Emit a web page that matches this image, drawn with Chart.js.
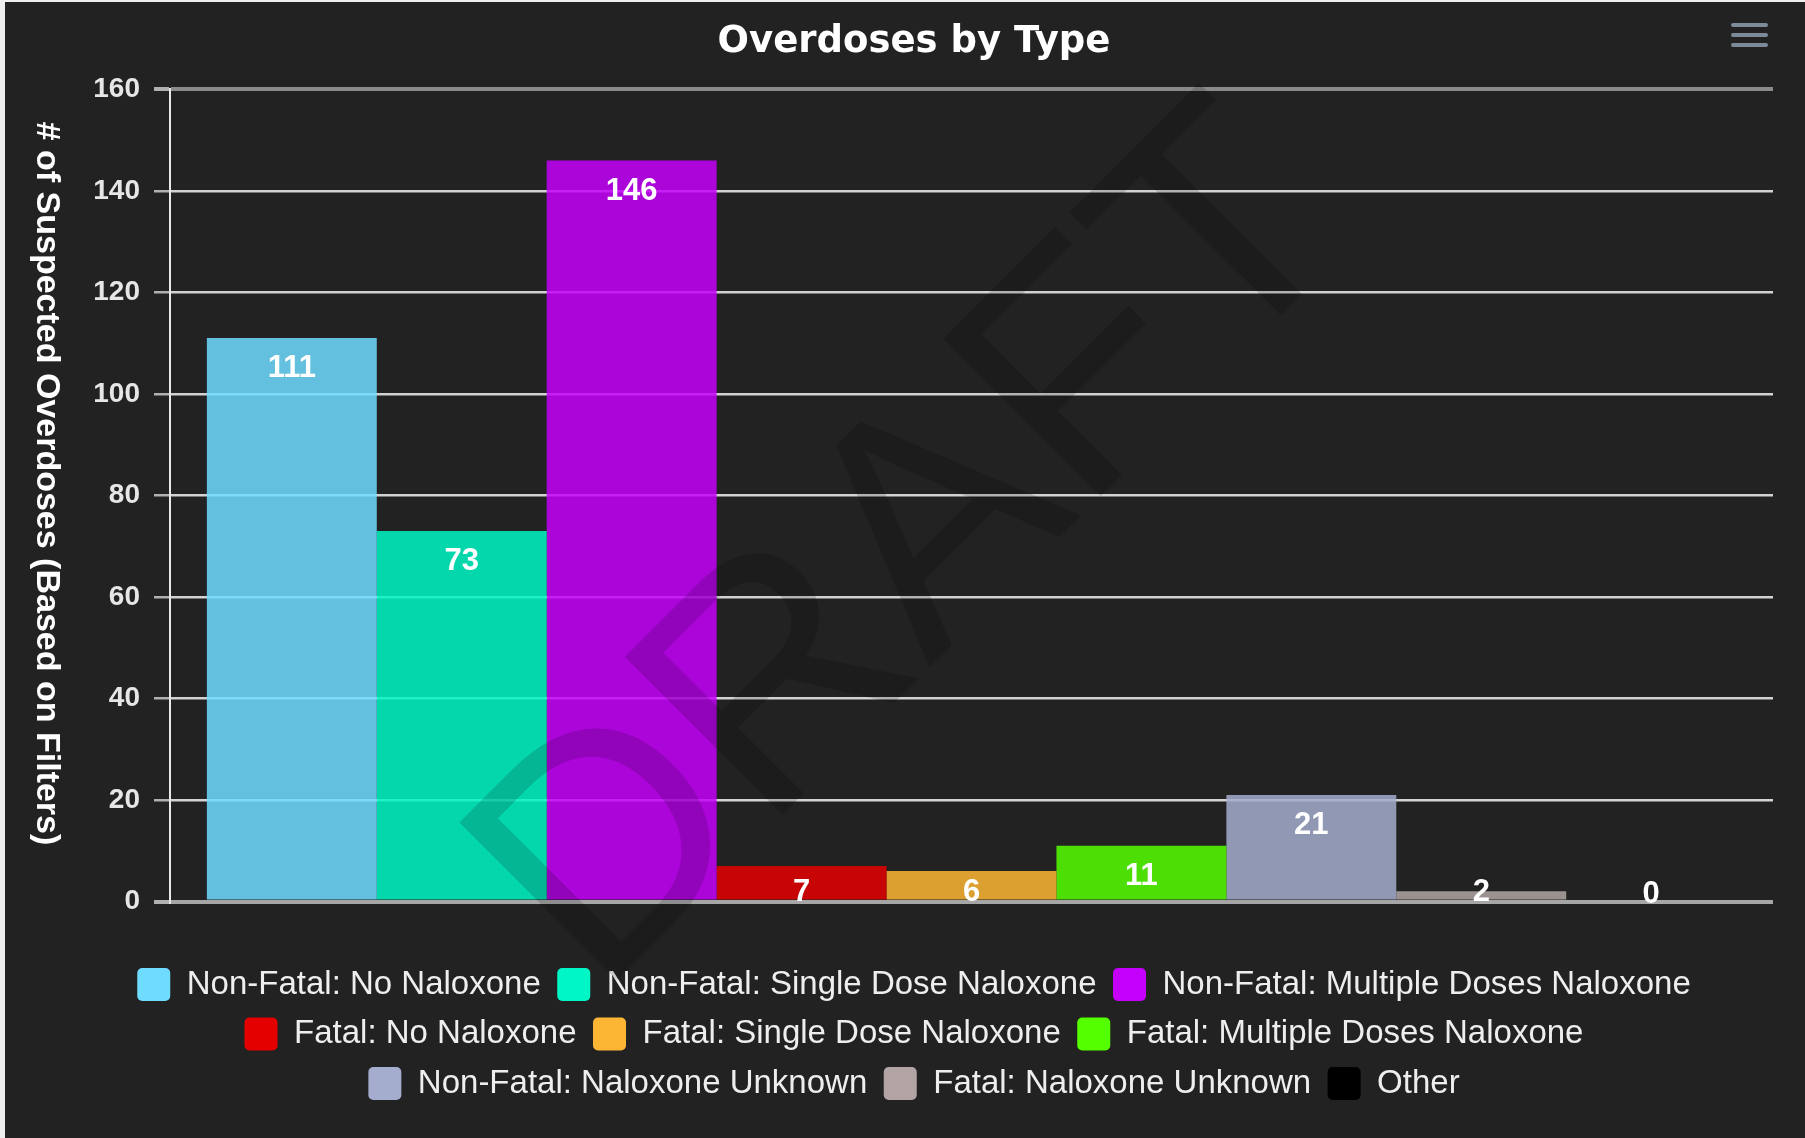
<!DOCTYPE html>
<html>
<head>
<meta charset="utf-8">
<title>Overdoses by Type</title>
<script src="https://cdn.jsdelivr.net/npm/chart.js@4.4.1/dist/chart.umd.min.js"></script>
<style>
    html, body { margin: 0; padding: 0; background: #eeeeee; }
    #wrap { position: absolute; left: 5px; top: 2px; width: 1800px; height: 1136px; background: #222222; }
</style>
</head>
<body>
<div id="wrap"><canvas id="typeChart"></canvas></div>
<script>
// Datos
const categories = [''];
const seriesNames = [
    'Non-Fatal: No Naloxone',
    'Non-Fatal: Single Dose Naloxone',
    'Non-Fatal: Multiple Doses Naloxone',
    'Fatal: No Naloxone',
    'Fatal: Single Dose Naloxone',
    'Fatal: Multiple Doses Naloxone',
    'Non-Fatal: Naloxone Unknown',
    'Fatal: Naloxone Unknown',
    'Other'
];
const seriesValues = [111, 73, 146, 7, 6, 11, 21, 2, 0];
const seriesColors = ['#6fdcff', '#00f7c5', '#c400fa', '#e50000', '#fdb633', '#54ff00', '#a4adce', '#b2a4a4', '#000000'];
const yTicks = [0, 20, 40, 60, 80, 100, 120, 140, 160];

Chart.defaults.font.family = "'Liberation Sans', Arial, sans-serif";

// Etiquetas dentro de las barras
const barLabels = {
    id: 'barLabels',
    afterDatasetsDraw(chart) {
        const ctx = chart.ctx;
        ctx.save();
        ctx.font = 'bold 31px "Liberation Sans", Arial, sans-serif';
        ctx.fillStyle = '#ffffff';
        ctx.textAlign = 'center';
        ctx.textBaseline = 'middle';
        chart.data.datasets.forEach((ds, i) => {
            const bar = chart.getDatasetMeta(i).data[0];
            const y = Math.min(bar.y + 30.5, bar.base - 7);
            ctx.fillText(String(ds.data[0]), bar.x, y);
        });
        ctx.restore();
    }
};

// Titulo del eje Y (de arriba hacia abajo), marca de agua y menu
const extras = {
    id: 'extras',
    afterDraw(chart) {
        const ctx = chart.ctx;
        const area = chart.chartArea;

        ctx.save();
        ctx.translate(41, (area.top + area.bottom) / 2 - 12);
        ctx.rotate(Math.PI / 2);
        ctx.font = 'bold 34px "Liberation Sans", Arial, sans-serif';
        ctx.fillStyle = '#ffffff';
        ctx.textAlign = 'center';
        ctx.textBaseline = 'middle';
        ctx.fillText('# of Suspected Overdoses (Based on Filters)', 0, 0);
        ctx.restore();

        ctx.save();
        ctx.translate(975, 615);
        ctx.rotate(-Math.PI / 4);
        ctx.font = '324px "Liberation Sans", Arial, sans-serif';
        ctx.fillStyle = 'rgba(0, 0, 0, 0.15)';
        ctx.textAlign = 'center';
        ctx.textBaseline = 'alphabetic';
        ctx.fillText('DRAFT', 0, 0);
        ctx.restore();

        ctx.save();
        ctx.strokeStyle = '#7d8a9a';
        ctx.lineWidth = 4;
        ctx.lineCap = 'round';
        [23, 33, 43].forEach(y => {
            ctx.beginPath();
            ctx.moveTo(1728, y);
            ctx.lineTo(1761, y);
            ctx.stroke();
        });
        ctx.restore();
    }
};

const typeCtx = document.getElementById('typeChart').getContext('2d');
const typeChart = new Chart(typeCtx, {
    type: 'bar',
    data: {
        labels: categories,
        datasets: seriesNames.map((name, i) => ({
            label: name,
            data: [seriesValues[i]],
            backgroundColor: seriesColors[i] + 'd9',
            borderWidth: 0,
            barPercentage: 1,
            categoryPercentage: 0.954
        }))
    },
    options: {
        responsive: true,
        maintainAspectRatio: false,
        animation: false,
        layout: { padding: { left: 50, right: 32, top: 0, bottom: 28 } },
        plugins: {
            title: {
                display: true,
                text: 'Overdoses by Type',
                color: '#ffffff',
                font: { family: 'DejaVu Sans', size: 37, weight: 'bold', lineHeight: 1.2 },
                padding: { top: 18, bottom: 25 }
            },
            legend: {
                position: 'bottom',
                title: { display: true, text: ' ', font: { size: 10, lineHeight: 1 }, padding: { top: 40, bottom: 0 } },
                labels: {
                    color: '#eeeeee',
                    font: { size: 33 },
                    boxWidth: 33,
                    boxHeight: 33,
                    padding: 16.5,
                    useBorderRadius: true,
                    borderRadius: 5,
                    generateLabels: chart => {
                        const items = Chart.defaults.plugins.legend.labels.generateLabels(chart);
                        items.forEach((item, i) => {
                            item.fillStyle = seriesColors[i];
                            item.strokeStyle = seriesColors[i];
                            item.lineWidth = 0;
                        });
                        return items;
                    }
                }
            },
            tooltip: { enabled: false }
        },
        scales: {
            x: { display: false },
            y: {
                min: 0,
                max: 160,
                afterFit: scale => { scale.width = 115; },
                afterBuildTicks: scale => { scale.ticks = yTicks.map(v => ({ value: v })); },
                ticks: {
                    color: '#e6e6e6',
                    padding: 14,
                    font: { size: 28, weight: 'bold' }
                },
                grid: {
                    color: c => c.tick.value === 160 ? '#8a8a8a' : (c.tick.value === 0 ? '#a6a6a6' : '#d2d2d2'),
                    lineWidth: c => (c.tick.value === 160 || c.tick.value === 0) ? 4 : 2.5,
                    tickColor: '#b0b0b0',
                    tickLength: 16
                },
                border: { display: true, color: '#e8e8e8', width: 2 }
            }
        }
    },
    plugins: [barLabels, extras]
});
</script>
</body>
</html>
